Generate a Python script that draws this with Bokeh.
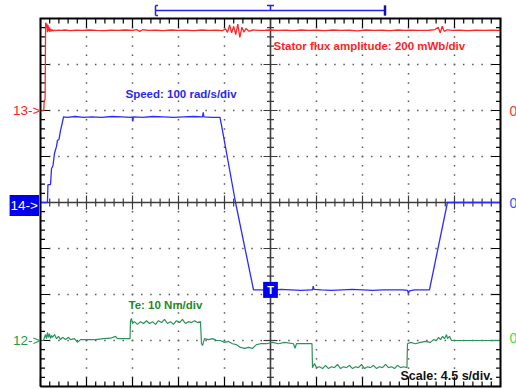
import numpy as np
from bokeh.plotting import figure
from bokeh.models import Range1d, Label
from bokeh.embed import file_html
from bokeh.resources import INLINE

# ---------------- data ----------------
# time axis: seconds (4.5 s/div, 10 div)
flux_t = [0.00, 0.32, 0.36, 0.45, 0.50, 0.56, 0.62, 0.68, 0.74, 0.80,
          0.86, 0.92, 0.98, 1.06, 1.14, 1.24, 1.36, 1.50, 1.70, 2.00,
          2.40, 2.90, 3.50, 4.10, 4.80, 5.50, 6.20, 6.90, 7.60, 8.30,
          9.00, 9.40, 9.70, 10.00, 10.60, 11.30, 12.00, 12.80, 13.50, 14.20,
          15.00, 15.80, 16.50, 17.20, 17.80, 18.10, 18.30, 18.50, 18.70, 18.90,
          19.10, 19.30, 19.50, 19.70, 19.90, 20.10, 20.40, 20.80, 21.40, 22.00,
          22.50, 23.20, 24.00, 24.80, 25.50, 26.20, 27.00, 27.80, 28.60, 29.40,
          30.20, 31.00, 31.80, 32.60, 33.40, 34.20, 35.00, 35.60, 36.20, 37.00,
          38.00, 38.60, 38.90, 39.10, 39.30, 39.50, 39.80, 40.30, 41.00, 41.80,
          42.60, 43.40, 44.20, 45.00]
# stator flux amplitude, mWb (200 mWb/div)
flux_v = [0, 0, 40, 50, 382, 360, 378, 340, 372, 345,
          362, 342, 356, 345, 352, 346, 350, 347, 349, 348,
          350, 347, 349, 348, 350, 348, 347, 349, 348, 350,
          348, 352, 344, 351, 348, 349, 347, 350, 348, 349,
          347, 350, 348, 349, 347, 355, 340, 372, 338, 366,
          330, 376, 318, 362, 340, 356, 345, 350, 348, 349,
          350, 348, 349, 347, 350, 348, 349, 347, 350, 348,
          349, 346, 350, 348, 349, 347, 350, 348, 349, 348,
          349, 352, 362, 338, 366, 344, 351, 348, 349, 347,
          349, 348, 349, 348]

speed_t = [0.00, 0.68, 0.73, 0.98, 1.08, 1.22, 1.37, 1.57, 1.66, 1.81,
           1.96, 2.10, 2.25, 2.60, 3.40, 4.20, 5.00, 6.00, 7.00, 8.00,
           8.80, 8.98, 9.03, 9.08, 10.00, 11.00, 12.00, 13.00, 14.00, 15.00,
           15.85, 15.92, 15.98, 16.80, 17.56, 17.80, 19.08, 20.84, 21.50, 22.50,
           23.50, 24.50, 25.50, 26.50, 26.62, 26.68, 26.76, 27.50, 28.50, 29.50,
           30.50, 31.50, 32.50, 33.50, 34.50, 35.40, 35.92, 35.98, 36.10, 36.60,
           37.20, 38.05, 39.81, 45.00]
# speed, rad/s (100 rad/s/div)
speed_v = [0, 0, 39, 39, 74, 80, 107, 122, 135, 137,
           157, 170, 186, 185, 187, 185, 186, 185, 187, 186,
           185, 186, 176, 186, 185, 187, 186, 185, 186, 187,
           186, 196, 186, 185, 185, 157, 0, -190, -190, -191,
           -189, -190, -191, -190, -190, -182, -189, -190, -191, -190,
           -189, -190, -191, -190, -190, -190, -191, -198, -192, -190,
           -190, -190, 0, 0]

te_t = [0.00, 0.29, 0.49, 0.59, 0.68, 0.78, 0.88, 0.98, 1.08, 1.17,
        1.37, 1.57, 1.76, 1.96, 2.15, 2.45, 2.74, 2.93, 3.33, 3.62,
        3.91, 4.70, 5.38, 6.16, 6.85, 7.34, 7.53, 8.02, 8.76, 8.80,
        8.90, 9.00, 9.19, 9.49, 9.78, 10.08, 10.37, 10.66, 10.96, 11.25,
        11.54, 11.84, 12.13, 12.42, 12.72, 13.01, 13.30, 13.60, 13.89, 14.18,
        14.48, 14.77, 15.07, 15.36, 15.65, 15.75, 15.85, 16.04, 16.43, 16.83,
        17.22, 17.61, 17.99, 18.39, 18.78, 19.17, 19.56, 19.96, 20.35, 20.74,
        21.13, 21.52, 22.11, 22.70, 23.28, 23.87, 24.75, 24.90, 25.04, 25.43,
        26.02, 26.56, 26.61, 26.80, 27.00, 27.29, 27.59, 27.88, 28.17, 28.47,
        28.76, 29.05, 29.35, 29.64, 29.93, 30.23, 30.52, 30.82, 31.11, 31.40,
        31.70, 31.99, 32.28, 32.58, 32.87, 33.16, 33.46, 33.75, 34.04, 34.34,
        34.63, 34.92, 35.22, 35.51, 35.85, 35.90, 36.20, 36.68, 37.17, 37.66,
        38.15, 38.45, 38.74, 38.94, 39.13, 39.33, 39.52, 39.72, 39.81, 40.01,
        40.21, 45.00]
# electromagnetic torque, Nm (10 Nm/div)
te_v = [0, 0, 1.3, 0.4, 1.7, 0.7, 1.5, 0.4, 1.1, 0.7,
        1.3, 0.4, 0.9, 0.2, 0.7, 0.2, 0.7, 0.2, 0.4, -0.4,
        0.2, 0.2, 0.2, 0.4, 0.5, 0.9, 0.4, 0.4, 0.4, 4.3,
        4.8, 3.7, 4.1, 3.5, 4.1, 3.7, 4.3, 3.7, 4.1, 3.5,
        4.3, 3.9, 4.6, 3.7, 4.1, 3.5, 4.3, 3.9, 4.6, 3.7,
        4.1, 3.9, 4.3, 3.9, 4.1, -0.7, -1.1, 0.4, 0.2, 0.4,
        0, 0, -0.4, -0.2, -0.7, -0.9, -1.5, -1.7, -1.5, -1.7,
        -0.9, -0.7, -0.7, -0.4, -0.7, -0.4, -0.7, -1.7, -0.7, -0.7,
        -0.7, -0.7, -5.9, -5.0, -5.9, -5.7, -6.1, -5.4, -6.1, -5.7,
        -5.9, -5.2, -6.1, -5.7, -5.9, -5.4, -6.1, -5.7, -5.9, -5.2,
        -6.1, -5.7, -5.9, -5.4, -6.1, -5.7, -5.9, -5.2, -5.9, -5.7,
        -6.1, -5.4, -5.9, -5.7, -5.9, -0.7, -0.4, -0.7, -0.4, -0.2,
        -0.4, 0.2, 0, 0.7, 0.2, 0.9, 0.4, 1.3, 0.4, 0.9,
        0, 0]

# channel scales and zero positions (in divisions from screen centre)
S_PER_DIV = 4.5
FLUX_PER_DIV, FLUX_ZERO = 200, 2
SPEED_PER_DIV, SPEED_ZERO = 100, 0
TE_PER_DIV, TE_ZERO = 10, -3

# ---------------- layout helpers ----------------
W, H = 516, 389
PX_DIV = 46.0
LEFT_PX, CY_PX = 40.0, 202.0
NX, NY = 10, 8
T_END = NX * S_PER_DIV
T_MID = T_END / 2


def tx(px):
    return (px - LEFT_PX) / PX_DIV * S_PER_DIV


def dv(py):
    return (CY_PX - py) / PX_DIV


def lx(n):
    return n / PX_DIV * S_PER_DIV


def ly(n):
    return n / PX_DIV


YMIN, YMAX = dv(H), dv(0)
p = figure(width=W, height=H, x_range=Range1d(tx(0), tx(W)), y_range=Range1d(YMIN, YMAX),
           x_axis_location=None, y_axis_location=None, toolbar_location=None,
           output_backend="svg", min_border=0, outline_line_color=None,
           background_fill_color="white", border_fill_color="white")
p.grid.visible = False
p.extra_y_ranges = {
    "flux": Range1d((YMIN - FLUX_ZERO) * FLUX_PER_DIV, (YMAX - FLUX_ZERO) * FLUX_PER_DIV),
    "speed": Range1d((YMIN - SPEED_ZERO) * SPEED_PER_DIV, (YMAX - SPEED_ZERO) * SPEED_PER_DIV),
    "te": Range1d((YMIN - TE_ZERO) * TE_PER_DIV, (YMAX - TE_ZERO) * TE_PER_DIV),
}

# ---------------- dotted graticule ----------------
half_y = NY / 2
minor_y = np.round(np.arange(-half_y, half_y + 1e-9, 0.2), 3)
minor_x = np.round(np.arange(0, T_END + 1e-9, S_PER_DIV / 5), 3)
gx, gy = [], []
for k in range(1, NX):
    if k == NX // 2:
        continue
    for yv in minor_y[1:-1]:
        gx.append(k * S_PER_DIV)
        gy.append(yv)
for j in range(-int(half_y) + 1, int(half_y)):
    if j == 0:
        continue
    for xv in minor_x[1:-1]:
        gx.append(xv)
        gy.append(j)
p.scatter(gx, gy, marker="square", size=1.5, fill_color="#5a5a5a", line_color=None)

# ---------------- tick marks on border and centre axes ----------------
x0s, y0s, x1s, y1s = [], [], [], []
for i, yv in enumerate(minor_y):
    L = 9 if i % 5 == 0 else 4.5
    x0s += [0, T_END]; x1s += [lx(L), T_END - lx(L)]; y0s += [yv, yv]; y1s += [yv, yv]
for i, xv in enumerate(minor_x):
    L = 9 if i % 5 == 0 else 5
    x0s += [xv, xv]; x1s += [xv, xv]; y0s += [half_y, -half_y]; y1s += [half_y - ly(L), -half_y + ly(L)]
p.segment(x0s, y0s, x1s, y1s, line_color="black", line_width=1.2)

cx0, cy0, cx1, cy1 = [], [], [], []
for i, xv in enumerate(minor_x):
    L = 7 if i % 5 == 0 else 4
    cx0.append(xv); cx1.append(xv); cy0.append(-ly(L)); cy1.append(ly(L))
for i, yv in enumerate(minor_y):
    L = 7 if i % 5 == 0 else 3.5
    cx0.append(T_MID - lx(L)); cx1.append(T_MID + lx(L)); cy0.append(yv); cy1.append(yv)
p.segment(cx0, cy0, cx1, cy1, line_color="#3c3c3c", line_width=1.2)
p.line([0, T_END], [0, 0], line_color="#3c3c3c", line_width=1.6)
p.line([T_MID, T_MID], [-half_y, half_y], line_color="#3c3c3c", line_width=1.6)

# ---------------- traces ----------------
p.line(flux_t, flux_v, y_range_name="flux", line_color="#ff2626", line_width=1.3)
p.line(te_t, te_v, y_range_name="te", line_color="#2a9458", line_width=1.2)
p.line(speed_t, speed_v, y_range_name="speed", line_color="#2b2bff", line_width=1.3)

# ---------------- frame ----------------
p.line([0, T_END, T_END, 0, 0], [-half_y, -half_y, half_y, half_y, -half_y],
       line_color="black", line_width=2, line_join="miter")

# ---------------- top trigger/record bracket ----------------
BL = "#2222ee"
p.segment([tx(155), tx(155), tx(155), tx(155), tx(384.5), tx(270), tx(266.5)],
          [dv(10), dv(5), dv(5), dv(15), dv(5), dv(5), dv(5)],
          [tx(385), tx(155), tx(157.5), tx(157.5), tx(384.5), tx(270), tx(273.5)],
          [dv(10), dv(15), dv(5), dv(15), dv(15), dv(10), dv(5)],
          line_color=BL, line_width=1.5)
p.segment([tx(384.5)], [dv(5)], [tx(384.5)], [dv(15)], line_color="#1010aa", line_width=2.5)

# ---------------- texts ----------------
FONT = "Liberation Sans"


def add_label(x, y, text, color, size="11.5px", style="bold", align="left", **kw):
    p.add_layout(Label(x=x, y=y, text=text, text_color=color, text_font=FONT,
                       text_font_size=size, text_font_style=style, text_align=align,
                       text_baseline="middle", **kw))


add_label(tx(273), dv(45), "Stator flux amplitude: 200 mWb/div", "#ff1f1f")
add_label(tx(125), dv(93), "Speed: 100 rad/s/div", "#2a2aee")
add_label(tx(128), dv(304), "Te: 10 Nm/div", "#1f8a2a")
add_label(tx(400), dv(375), "Scale: 4.5 s/div.", "#111111", size="12.5px")

# channel reference markers (left) and zero marks (right)
add_label(0, 0, "13->", "#ff2020", size="13.5px", style="normal", align="right", y_range_name="flux")
add_label(tx(38.5), dv(205), "14->", "white", size="13.5px", style="normal", align="right",
          background_fill_color="#0000ee", padding=dict(x=1, y=3))
add_label(0, 0, "12->", "#1f9a4a", size="13.5px", style="normal", align="right", y_range_name="te")
add_label(T_MID, -190, "T", "white", size="11px", style="bold", align="center",
          y_range_name="speed", background_fill_color="#0000ee", padding=dict(x=4, y=2))

add_label(tx(509), dv(110), "0", "#ff3333", size="14px", style="normal")
add_label(tx(509), dv(202), "0", "#3355ff", size="14px", style="normal")
add_label(tx(509), dv(337.5), "0", "#44dd44", size="14px", style="normal")

open("out.html", "w").write(file_html(p, INLINE))
